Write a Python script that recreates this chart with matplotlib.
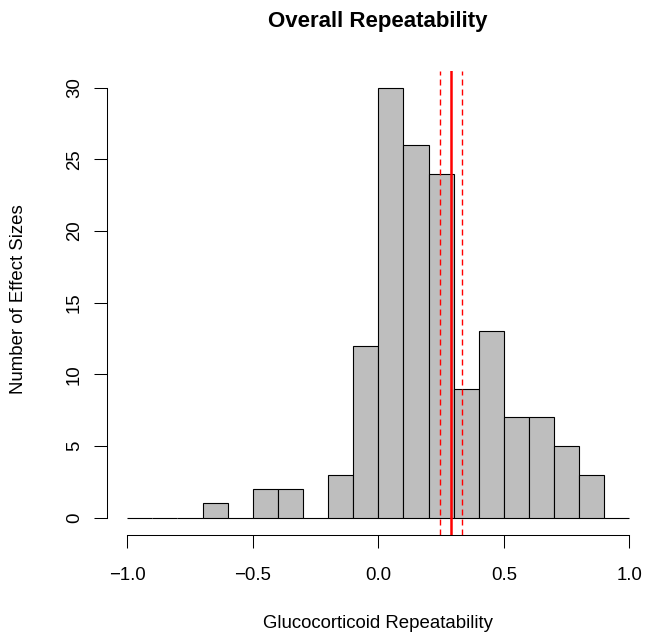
import matplotlib
matplotlib.use("Agg")
import matplotlib.pyplot as plt
import numpy as np

# histogram of glucocorticoid repeatability (bins of 0.1 from -1 to 1)
bin_edges = [-1.0, -0.9, -0.8, -0.7, -0.6, -0.5, -0.4, -0.3, -0.2, -0.1,
             0.0, 0.1, 0.2, 0.3, 0.4, 0.5, 0.6, 0.7, 0.8, 0.9, 1.0]
counts = [0, 0, 0, 1, 0, 2, 2, 0, 3, 12, 30, 26, 24, 9, 13, 7, 7, 5, 3, 0]

# overall mean and its confidence interval
mean_r = 0.291
ci_low, ci_high = 0.245, 0.335

x_ticks = [-1.0, -0.5, 0.0, 0.5, 1.0]
y_ticks = [0, 5, 10, 15, 20, 25, 30]

plt.rcParams["font.family"] = ["Liberation Sans", "DejaVu Sans"]

W, H = 646, 638
fig = plt.figure(figsize=(W / 100, H / 100), dpi=100)
ax = fig.add_axes([107.2 / W, 1 - 534.9 / H, 542.2 / W, 464.4 / H])

edges = np.array(bin_edges)
ax.bar(edges[:-1], counts, width=np.diff(edges), align="edge",
       color="#BEBEBE", edgecolor="black", linewidth=0.8)

ax.axvline(mean_r, color="red", lw=1.8)
for v in (ci_low, ci_high):
    ax.axvline(v, color="red", lw=1.0, dashes=(4.3, 2.9))

ax.set_xlim(-1.08, 1.08)
ax.set_ylim(-1.2, 31.2)

for s in ("top", "right"):
    ax.spines[s].set_visible(False)
ax.spines["left"].set_bounds(0, 30)
ax.spines["bottom"].set_bounds(-1, 1)
for s in ("left", "bottom"):
    ax.spines[s].set_linewidth(0.75)

ax.set_xticks(x_ticks)
ax.set_xticklabels([f"{t:.1f}".replace("-", "\u2212") for t in x_ticks])
ax.set_yticks(y_ticks)
ax.set_yticklabels([str(t) for t in y_ticks], rotation=90, va="center")
ax.tick_params(axis="both", length=9.4, width=0.75, labelsize=13.4)
ax.tick_params(axis="x", pad=14)
ax.tick_params(axis="y", pad=8)

fig.text(378 / W, 1 - 21 / H, "Overall Repeatability", ha="center",
         va="center", fontsize=16, fontweight="bold")
fig.text(378 / W, 1 - 623 / H, "Glucocorticoid Repeatability", ha="center",
         va="center", fontsize=13.4)
fig.text(19 / W, 1 - 299 / H, "Number of Effect Sizes", ha="center",
         va="center", rotation=90, fontsize=13.4)

fig.savefig("out.png", dpi=100)
